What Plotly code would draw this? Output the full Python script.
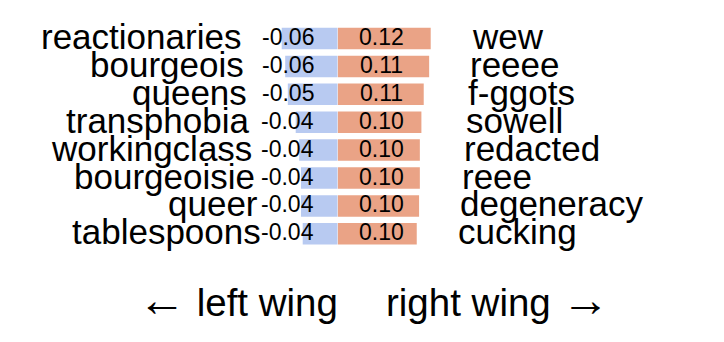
import plotly.graph_objects as go

# ---- data ----
left_words = ["reactionaries", "bourgeois", "queens", "transphobia",
              "workingclass", "bourgeoisie", "queer", "tablespoons"]
left_values = [-0.064, -0.060, -0.057, -0.048, -0.044, -0.042, -0.042, -0.040]
left_labels = ["-0.06", "-0.06", "-0.05", "-0.04", "-0.04", "-0.04", "-0.04", "-0.04"]

right_words = ["wew", "reeee", "f-ggots", "sowell",
               "redacted", "reee", "degeneracy", "cucking"]
right_values = [0.120, 0.118, 0.111, 0.108, 0.106, 0.106, 0.105, 0.102]
right_labels = ["0.12", "0.11", "0.11", "0.10", "0.10", "0.10", "0.10", "0.10"]

axis_titles = ["left wing", "right wing"]
arrows = ["\u2190", "\u2192"]

# ---- layout helpers (pixels -> paper) ----
W, H = 724, 342
def px(x):
    return x / W
def py(y):
    return 1 - y / H

FONT = "Liberation Sans, Arial, Helvetica, sans-serif"
BLUE = "#b8caf1"
RED = "#eaa386"

zero_px = 337.7
left_scale = 875.0   # px per unit
right_scale = 775.0
left_start = 250.0
right_end = 450.0

rows = list(range(len(left_words)))

fig = go.Figure()
fig.add_trace(go.Bar(x=left_values, y=rows, orientation="h", marker_color=BLUE,
                     marker_line_width=0, width=0.77, xaxis="x", yaxis="y",
                     hoverinfo="skip", showlegend=False))
fig.add_trace(go.Bar(x=right_values, y=rows, orientation="h", marker_color=RED,
                     marker_line_width=0, width=0.77, xaxis="x2", yaxis="y",
                     hoverinfo="skip", showlegend=False))

annotations = []
n = len(rows)
for i in rows:
    annotations.append(dict(text=left_words[i], x=px(243 + 2.8 * i), xref="paper",
                            y=i, yref="y", xanchor="right", yanchor="middle", yshift=2,
                            showarrow=False, font=dict(family=FONT, size=35, color="black")))
    annotations.append(dict(text=right_words[i], x=px(470 - 2.0 * i), xref="paper",
                            y=i, yref="y", xanchor="left", yanchor="middle", yshift=2,
                            showarrow=False, font=dict(family=FONT, size=35, color="black")))
    annotations.append(dict(text=left_labels[i], x=px(316), xref="paper",
                            y=i, yref="y", xanchor="right", yanchor="middle", yshift=1.5,
                            showarrow=False, font=dict(family=FONT, size=23, color="black")))
    annotations.append(dict(text=right_labels[i], x=px(381), xref="paper",
                            y=i, yref="y", xanchor="center", yanchor="middle", yshift=1.5,
                            showarrow=False, font=dict(family=FONT, size=23, color="black")))

arrow_span = '<span style="font-size:48px">%s</span>'
annotations.append(dict(text=arrow_span % arrows[0] + " " + axis_titles[0],
                        x=px(340), xref="paper", y=py(299), yref="paper",
                        xanchor="right", yanchor="middle", showarrow=False,
                        font=dict(family=FONT, size=38.5, color="black")))
annotations.append(dict(text=axis_titles[1] + " " + arrow_span % arrows[1],
                        x=px(384), xref="paper", y=py(299), yref="paper",
                        xanchor="left", yanchor="middle", showarrow=False,
                        font=dict(family=FONT, size=38.5, color="black")))

pitch = 27.9
top_px = 38.5 - pitch / 2
bot_px = top_px + pitch * n

fig.update_layout(
    width=W, height=H,
    margin=dict(l=0, r=0, t=0, b=0),
    paper_bgcolor="white", plot_bgcolor="rgba(0,0,0,0)",
    barmode="overlay",
    xaxis=dict(domain=[px(left_start), px(zero_px)],
               range=[-(zero_px - left_start) / left_scale, 0],
               visible=False, fixedrange=True),
    xaxis2=dict(domain=[px(zero_px), px(right_end)],
                range=[0, (right_end - zero_px) / right_scale],
                visible=False, fixedrange=True, anchor="y"),
    yaxis=dict(domain=[py(bot_px), py(top_px)], range=[n - 0.5, -0.5],
               visible=False, fixedrange=True),
    annotations=annotations,
)

fig.write_html("out.html", config={"displayModeBar": False})
